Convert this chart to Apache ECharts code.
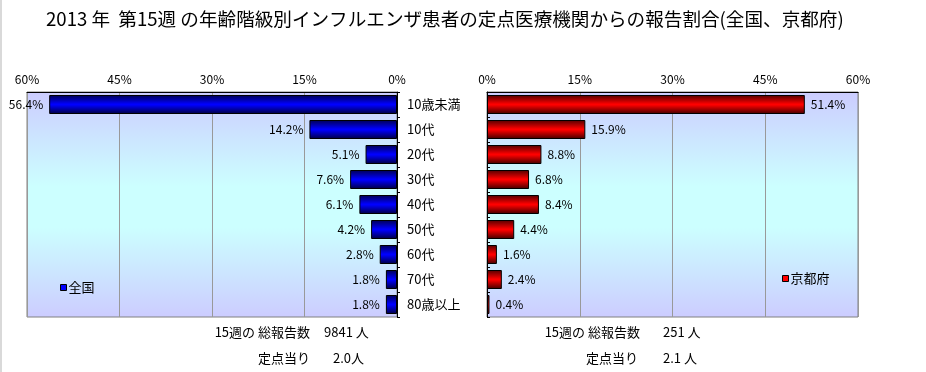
<!DOCTYPE html>
<html>
<head>
<meta charset="utf-8">
<script src="https://cdn.jsdelivr.net/npm/echarts@6/dist/echarts.min.js"></script>
<style>
html,body{margin:0;padding:0;background:#fff;}
#c{width:926px;height:372px;}
</style>
</head>
<body>
<div id="c"></div>
<script>
const categories = ['10歳未満','10代','20代','30代','40代','50代','60代','70代','80歳以上'];
const nationalValues = [56.4,14.2,5.1,7.6,6.1,4.2,2.8,1.8,1.8];
const kyotoValues = [51.4,15.9,8.8,6.8,8.4,4.4,1.6,2.4,0.4];
const axisMax = 60;
const axisStep = 15;
const titleText = '2013 年  第15週 の年齢階級別インフルエンザ患者の定点医療機関からの報告割合(全国、京都府)';
const nationalNotes = ['15週の 総報告数', '9841 人', '定点当り', '2.0人'];
const kyotoNotes = ['15週の 総報告数', '251 人', '定点当り', '2.1 人'];

const FONT = '"Noto Sans CJK JP", "Noto Sans", sans-serif';
const chart = echarts.init(document.getElementById('c'), null, {renderer:'canvas'});

function vgrad(c0, c1, c2) {
  return {type:'linear', x:0, y:0, x2:0, y2:1, colorStops:[
    {offset:0, color:c0},{offset:0.48, color:c1},{offset:0.52, color:c1},{offset:1, color:c2}]};
}
const bg = {type:'linear', x:0, y:0, x2:0, y2:1, colorStops:[
  {offset:0, color:'#ccccff'},{offset:0.42, color:'#ccffff'},{offset:0.6, color:'#ccffff'},{offset:1, color:'#ccccff'}]};

const xCommon = {
  type:'value', min:0, max:axisMax, interval:axisStep, position:'top',
  axisLine:{show:true, lineStyle:{color:'#000', width:1}},
  axisTick:{show:false},
  axisLabel:{formatter:'{value}%', fontSize:12, color:'#000', fontFamily:FONT, margin:7},
  splitLine:{show:true, lineStyle:{color:'#999999', width:1}}
};

function noteText(x, y, text, align) {
  return {type:'text', x:x, y:y, style:{text:text, fill:'#000', font:'13px ' + FONT, textAlign:align, textVerticalAlign:'middle'}};
}

chart.setOption({
  backgroundColor:'#fff',
  animation:false,
  title:{text:titleText, left:41, top:5, textStyle:{fontSize:18.6, fontWeight:'normal', color:'#000', fontFamily:FONT}},
  grid:[
    {left:27, right:926-397, top:92, bottom:372-317, show:true, backgroundColor:bg, borderColor:'#808080', borderWidth:1},
    {left:487, right:926-858, top:92, bottom:372-317, show:true, backgroundColor:bg, borderColor:'#808080', borderWidth:1}
  ],
  xAxis:[
    Object.assign({}, xCommon, {gridIndex:0, inverse:true}),
    Object.assign({}, xCommon, {gridIndex:1})
  ],
  yAxis:[
    {type:'category', gridIndex:0, data:categories, inverse:true, position:'right',
     axisLine:{show:true, lineStyle:{color:'#000'}},
     axisTick:{show:true, length:3, lineStyle:{color:'#000'}},
     axisLabel:{show:true, fontSize:13, color:'#000', fontFamily:FONT, margin:10, align:'left'}},
    {type:'category', gridIndex:1, data:categories, inverse:true, position:'left',
     axisLine:{show:true, lineStyle:{color:'#000'}},
     axisTick:{show:true, inside:true, length:3, lineStyle:{color:'#000'}},
     axisLabel:{show:false}}
  ],
  legend:[
    {data:[{name:'全国', itemStyle:{color:'#0000ff', borderColor:'#000', borderWidth:1}}],
     left:55, top:276, icon:'rect', itemWidth:6, itemHeight:6, itemGap:4,
     textStyle:{fontSize:13, color:'#000', fontFamily:FONT, padding:[0,0,0,-3]}},
    {data:[{name:'京都府', itemStyle:{color:'#ff0000', borderColor:'#000', borderWidth:1}}],
     left:777, top:267, icon:'rect', itemWidth:6, itemHeight:6, itemGap:4,
     textStyle:{fontSize:13, color:'#000', fontFamily:FONT, padding:[0,0,0,-3]}}
  ],
  series:[
    {name:'全国', type:'bar', xAxisIndex:0, yAxisIndex:0, data:nationalValues, barWidth:19,
     itemStyle:{color:vgrad('#000050','#0000ff','#000040'), borderColor:'#000', borderWidth:1},
     label:{show:true, position:'left', distance:6, fontSize:12, color:'#000', fontFamily:FONT,
            formatter:p => p.value.toFixed(1) + '%'}},
    {name:'京都府', type:'bar', xAxisIndex:1, yAxisIndex:1, data:kyotoValues, barWidth:19,
     itemStyle:{color:vgrad('#500000','#ff0000','#400000'), borderColor:'#000', borderWidth:1},
     label:{show:true, position:'right', distance:6, fontSize:12, color:'#000', fontFamily:FONT,
            formatter:p => p.value.toFixed(1) + '%'}}
  ],
  graphic:[
    {type:'rect', shape:{x:0, y:0, width:2, height:372}, style:{fill:'#d9d9d9'}},
    noteText(310, 332, nationalNotes[0], 'right'),
    noteText(324, 332, nationalNotes[1], 'left'),
    noteText(310, 358, nationalNotes[2], 'right'),
    noteText(333, 358, nationalNotes[3], 'left'),
    noteText(640, 332, kyotoNotes[0], 'right'),
    noteText(663, 332, kyotoNotes[1], 'left'),
    noteText(638, 358, kyotoNotes[2], 'right'),
    noteText(663, 358, kyotoNotes[3], 'left')
  ]
});
</script>
</body>
</html>
